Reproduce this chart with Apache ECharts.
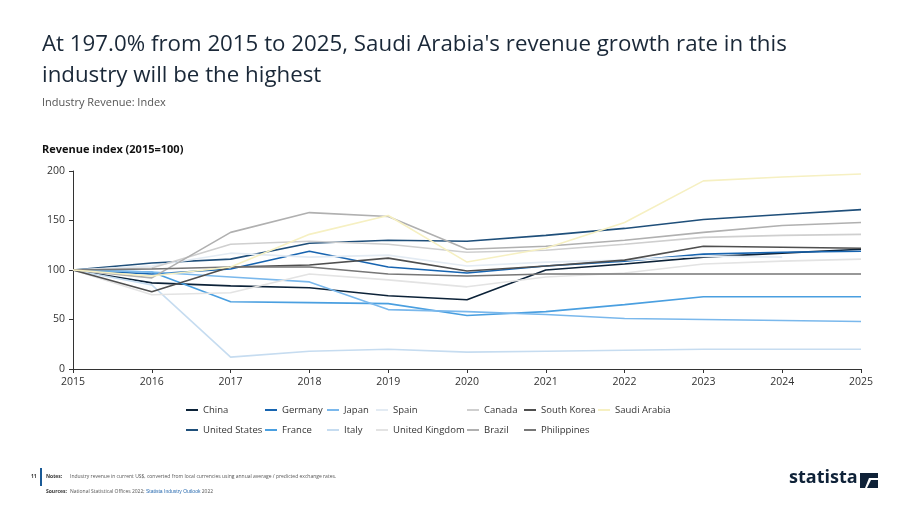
<!DOCTYPE html>
<html>
<head>
<meta charset="utf-8">
<script src="https://cdn.jsdelivr.net/npm/echarts@6/dist/echarts.min.js"></script>
<style>
  html, body { margin: 0; padding: 0; background: #fff; }
  #chart { width: 920px; height: 518px; }
</style>
</head>
<body>
<div id="chart"></div>
<script>
// years on the x axis
const years = ["2015", "2016", "2017", "2018", "2019", "2020", "2021", "2022", "2023", "2024", "2025"];

// revenue index per country (2015 = 100)
const china = [100, 87, 84, 82, 74, 70, 100, 106, 113, 117, 121];
const unitedStates = [100, 107, 111, 127, 130, 129, 135, 142, 151, 156, 161];
const germany = [100, 96, 101, 119, 103, 97, 104, 109, 116, 118, 119];
const france = [100, 98, 68, 67, 66, 54, 58, 65, 73, 73, 73];
const japan = [100, 98, 93, 88, 60, 58, 55, 51, 50, 49, 48];
const italy = [100, 85, 12, 18, 20, 17, 18, 19, 20, 20, 20];
const spain = [100, 104, 117, 113, 115, 104, 108, 110, 114, 113, null];
const unitedKingdom = [100, 75, 77, 96, 90, 83, 93, 97, 106, 109, 111];
const canada = [100, 102, 126, 129, 126, 118, 120, 126, 133, 135, 136];
const brazil = [100, 92, 138, 158, 154, 121, 124, 130, 138, 145, 148];
const southKorea = [100, 78, 103, 105, 112, 99, 104, 110, 124, 123, 122];
const philippines = [100, 101, 103, 103, 96, 94, 96, 96, 96, 96, 96];
const saudiArabia = [100, 94, 103, 136, 155, 108, 122, 148, 190, 194, 197];

const yTicks = [0, 50, 100, 150, 200];

const seriesList = [
  { name: "China", data: china, color: "#0c2238" },
  { name: "United States", data: unitedStates, color: "#1f4f7a" },
  { name: "Germany", data: germany, color: "#1764b0" },
  { name: "France", data: france, color: "#4a9fe0" },
  { name: "Japan", data: japan, color: "#7ab8ec" },
  { name: "Italy", data: italy, color: "#c6dcf0" },
  { name: "Spain", data: spain, color: "#e3ebf3" },
  { name: "United Kingdom", data: unitedKingdom, color: "#e3e3e3" },
  { name: "Canada", data: canada, color: "#cfcfcf" },
  { name: "Brazil", data: brazil, color: "#b0b0b0" },
  { name: "South Korea", data: southKorea, color: "#4f4f4f" },
  { name: "Philippines", data: philippines, color: "#777777" },
  { name: "Saudi Arabia", data: saudiArabia, color: "#f6f0c2" },
];

// legend columns (two rows)
const legendCols = [
  { left: 181, names: ["China", "United States"] },
  { left: 260, names: ["Germany", "France"] },
  { left: 322, names: ["Japan", "Italy"] },
  { left: 371, names: ["Spain", "United Kingdom"] },
  { left: 462, names: ["Canada", "Brazil"] },
  { left: 519, names: ["South Korea", "Philippines"] },
  { left: 593, names: ["Saudi Arabia"] },
];

const font = "'Open Sans', 'Noto Sans', sans-serif";
const chart = echarts.init(document.getElementById("chart"), null, { renderer: "canvas" });

const option = {
  backgroundColor: "#fff",
  animation: false,
  textStyle: { fontFamily: font },
  grid: { left: 73, right: 59, top: 171, bottom: 149 },
  legend: legendCols.map((c) => ({
    orient: "vertical",
    left: c.left,
    top: 400,
    itemGap: 10,
    itemWidth: 12,
    itemHeight: 2,
    icon: "rect",
    selectedMode: false,
    textStyle: { fontSize: 9.5, color: "#333", fontFamily: font },
    data: c.names,
  })),
  xAxis: {
    type: "category",
    data: years,
    boundaryGap: false,
    axisLine: { lineStyle: { color: "#333", width: 1 } },
    axisTick: { show: true, length: 4, lineStyle: { color: "#333" } },
    axisLabel: { color: "#333", fontSize: 10.5, margin: 8 },
    splitLine: { show: false },
  },
  yAxis: {
    type: "value",
    min: yTicks[0],
    max: yTicks[yTicks.length - 1],
    interval: 50,
    axisLine: { show: true, lineStyle: { color: "#333", width: 1 } },
    axisTick: { show: true, length: 4, lineStyle: { color: "#333" } },
    axisLabel: { color: "#333", fontSize: 10.5, margin: 8 },
    splitLine: { show: false },
  },
  series: seriesList.map((s) => ({
    name: s.name,
    type: "line",
    data: s.data,
    showSymbol: false,
    symbol: "none",
    connectNulls: false,
    lineStyle: { width: 1.6, color: s.color },
    itemStyle: { color: s.color },
  })),
  graphic: [
    {
      type: "text", left: 42, top: 29,
      style: {
        text: "At 197.0% from 2015 to 2025, Saudi Arabia's revenue growth rate in this\nindustry will be the highest",
        fontSize: 22.3, lineHeight: 31, fill: "#1a2838", fontFamily: font,
      },
    },
    {
      type: "text", left: 42, top: 97,
      style: { text: "Industry Revenue: Index", fontSize: 11, fill: "#555", fontFamily: font },
    },
    {
      type: "text", left: 42, top: 144,
      style: { text: "Revenue index (2015=100)", fontSize: 11, fontWeight: "bold", fill: "#111", fontFamily: font },
    },
    // footer
    { type: "rect", left: 40, top: 468, shape: { width: 2, height: 18 }, style: { fill: "#1a5a96" } },
    { type: "text", left: 31, top: 474, style: { text: "11", fontSize: 5, fontWeight: "bold", fill: "#333", fontFamily: font } },
    { type: "text", left: 46, top: 474, style: { text: "Notes:", fontSize: 5, fontWeight: "bold", fill: "#333", fontFamily: font } },
    {
      type: "text", left: 70, top: 474,
      style: { text: "Industry revenue in current US$, converted from local currencies using annual average / predicted exchange rates.", fontSize: 5, fill: "#555", fontFamily: font },
    },
    { type: "text", left: 46, top: 489, style: { text: "Sources:", fontSize: 5, fontWeight: "bold", fill: "#333", fontFamily: font } },
    {
      type: "text", left: 70, top: 489,
      style: {
        text: "National Statistical Offices 2022; {u|Statista Industry Outlook} 2022",
        fontSize: 5, fill: "#555", fontFamily: font,
        rich: { u: { fontSize: 5, fill: "#2b6cb0", textDecoration: "underline" } },
      },
    },
    {
      type: "text", left: 789, top: 469,
      style: { text: "statista", fontSize: 18, fontWeight: "bold", fill: "#0f2238", fontFamily: font },
    },
    {
      type: "polygon",
      shape: { points: [[860, 473], [878, 473], [878, 478], [869, 478], [865, 488], [860, 488]] },
      style: { fill: "#0f2238" },
    },
    {
      type: "polygon",
      shape: { points: [[871, 480], [878, 480], [878, 488], [867, 488]] },
      style: { fill: "#0f2238" },
    },
  ],
};

chart.setOption(option);
</script>
</body>
</html>
